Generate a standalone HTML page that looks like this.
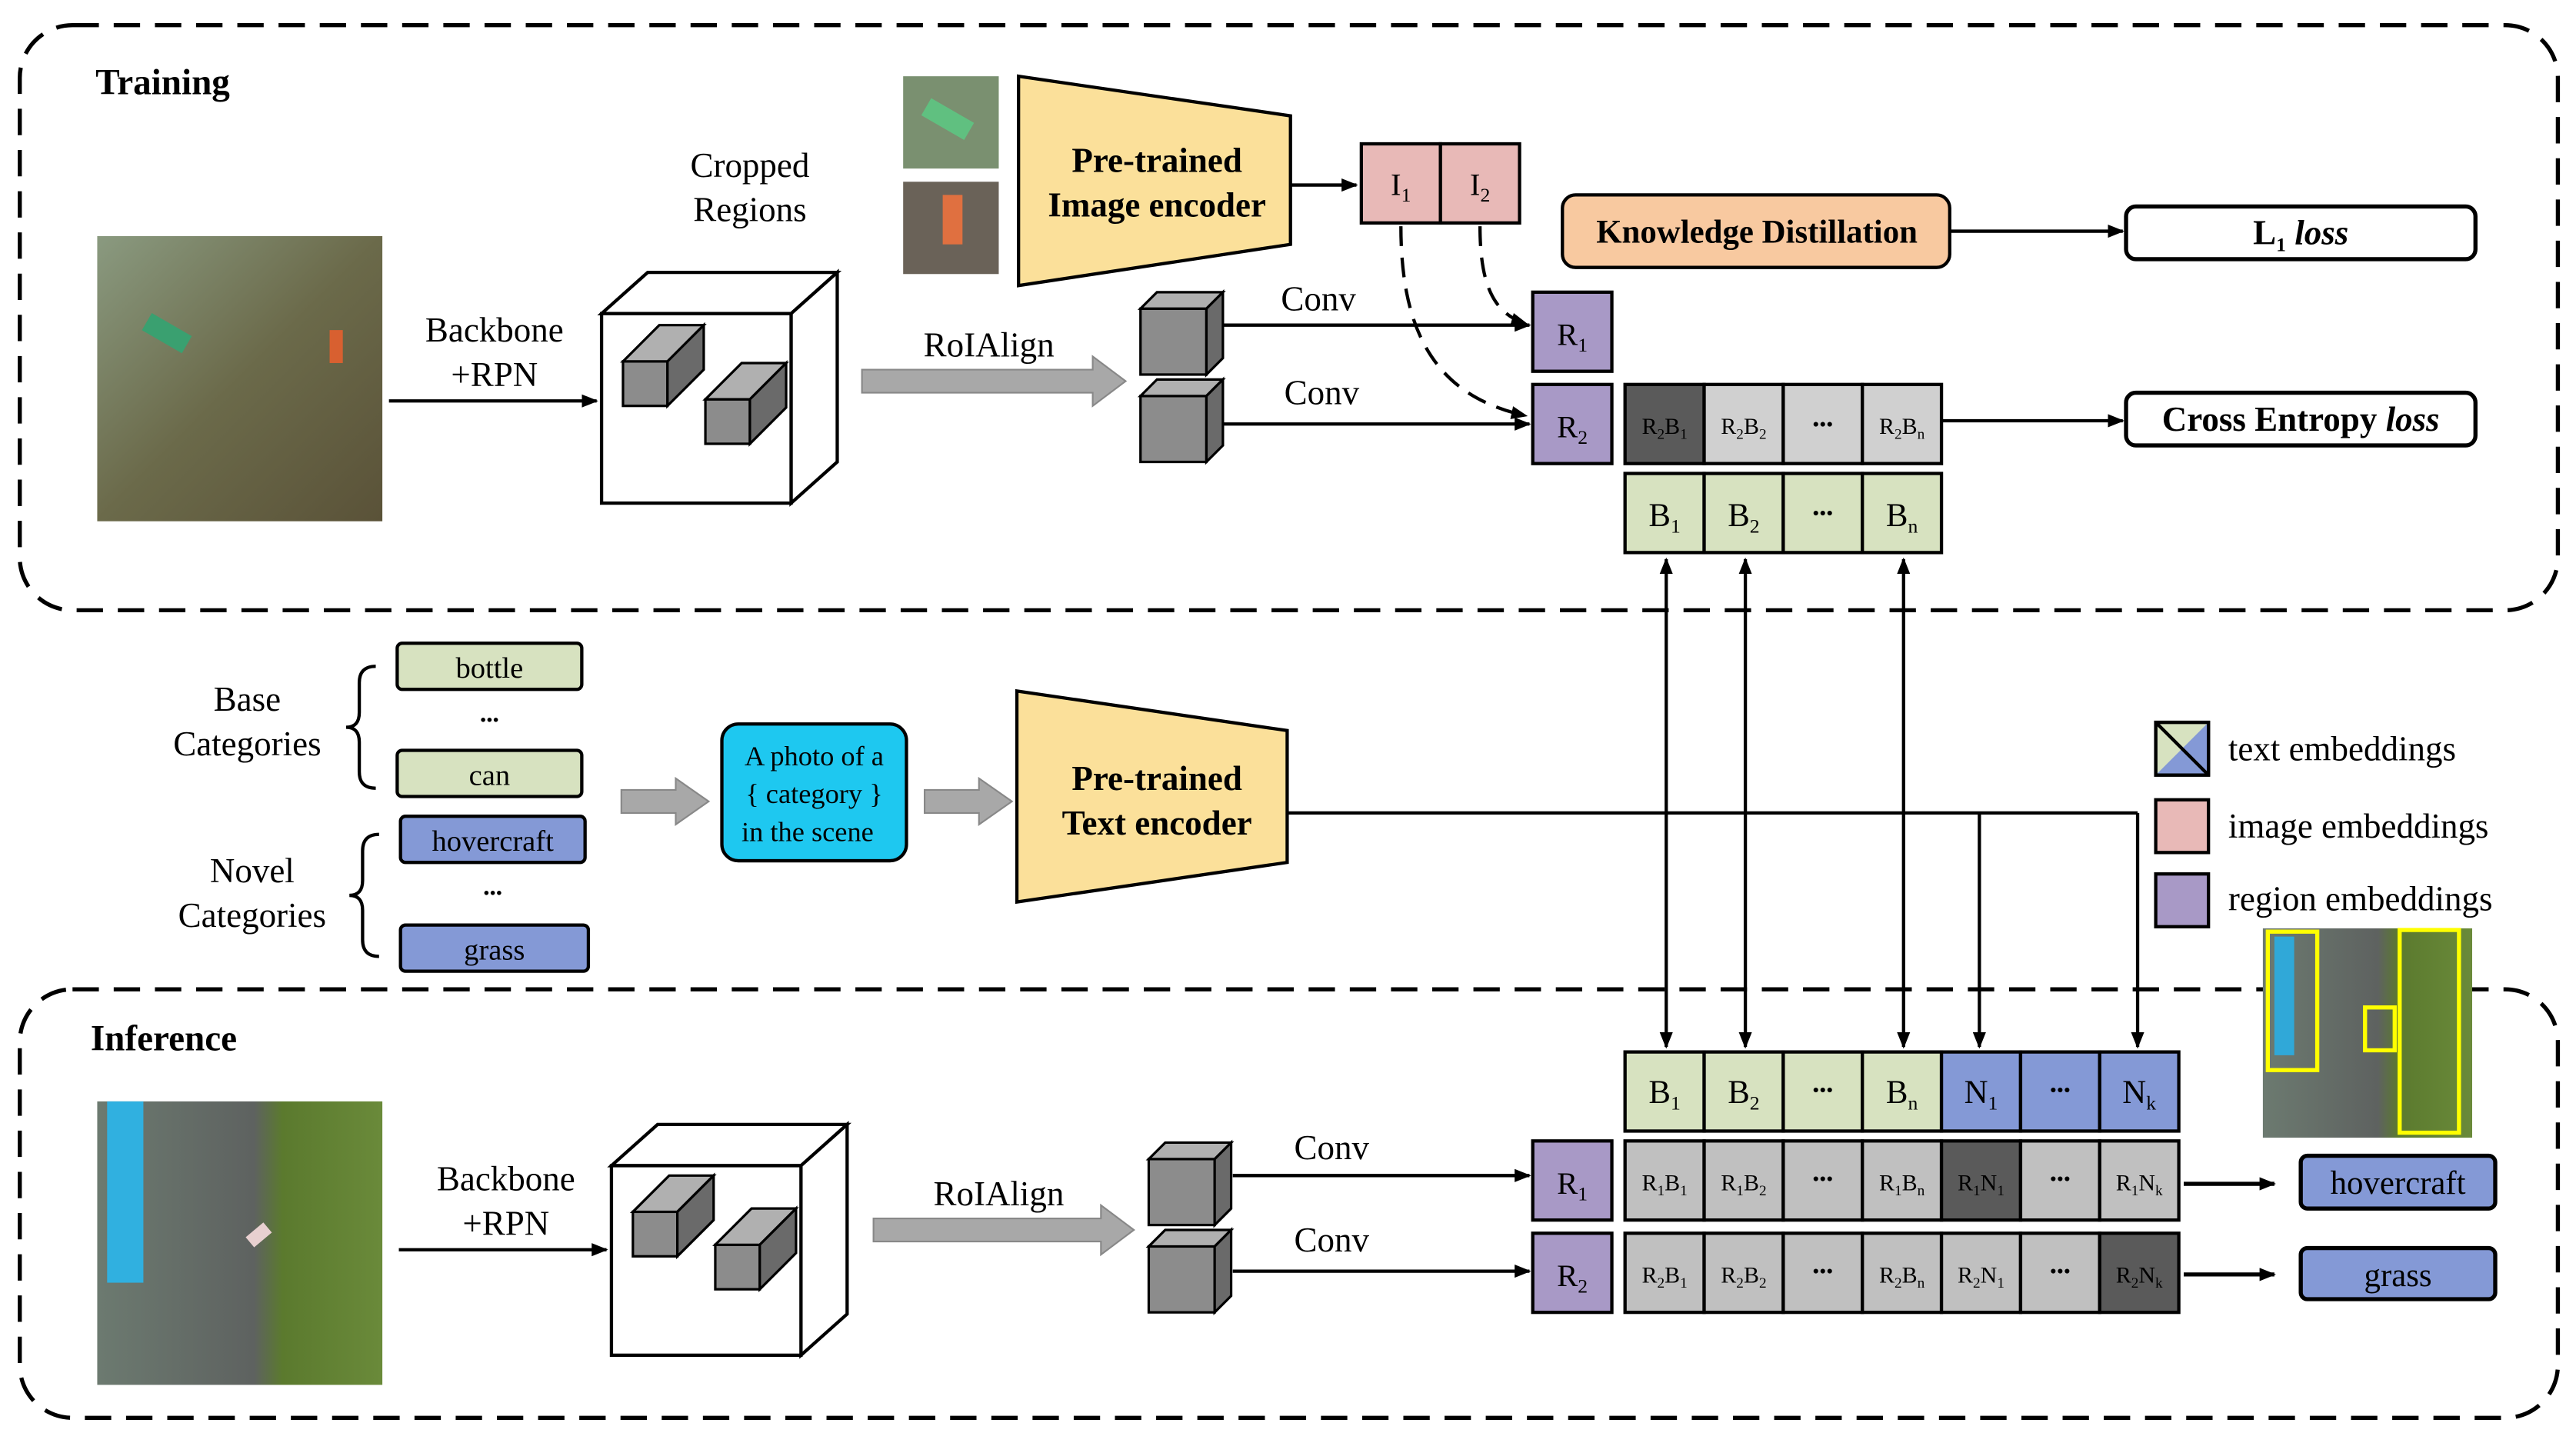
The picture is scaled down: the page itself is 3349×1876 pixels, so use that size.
<!DOCTYPE html>
<html><head><meta charset="utf-8"><style>
html,body{margin:0;padding:0;background:#fff}
svg{display:block}
text{font-family:"Liberation Serif",serif;fill:#000}
</style></head><body>
<svg width="3349" height="1876" viewBox="0 0 1563 875" xmlns="http://www.w3.org/2000/svg">
<defs>
<marker id="ah" markerWidth="10" markerHeight="8" refX="9" refY="4" orient="auto" markerUnits="userSpaceOnUse"><path d="M0,0 L10,4 L0,8 z" fill="#000"/></marker>
<marker id="ahs" markerWidth="10" markerHeight="8" refX="1" refY="4" orient="auto" markerUnits="userSpaceOnUse"><path d="M10,0 L0,4 L10,8 z" fill="#000"/></marker>
<linearGradient id="p1" x1="0" y1="0" x2="1" y2="1"><stop offset="0" stop-color="#8a9a80"/><stop offset="0.5" stop-color="#6b6a4a"/><stop offset="1" stop-color="#5a5238"/></linearGradient>
<linearGradient id="p2" x1="0" y1="0" x2="1" y2="0"><stop offset="0" stop-color="#6c7a70"/><stop offset="0.55" stop-color="#5e6260"/><stop offset="0.65" stop-color="#5b7a2e"/><stop offset="1" stop-color="#6a8a3a"/></linearGradient>
<g id="cube"><rect x="0" y="0" width="40" height="40" fill="#8c8c8c" stroke="#000" stroke-width="1.5"/><path d="M0,0 L10,-10 L50,-10 L40,0 z" fill="#b0b0b0" stroke="#000" stroke-width="1.5"/><path d="M40,0 L50,-10 L50,30 L40,40 z" fill="#6a6a6a" stroke="#000" stroke-width="1.5"/></g>
<g id="scube"><rect x="0" y="0" width="27" height="27" fill="#8c8c8c" stroke="#000" stroke-width="1.5"/><path d="M0,0 L22,-22 L49,-22 L27,0 z" fill="#b0b0b0" stroke="#000" stroke-width="1.5"/><path d="M27,0 L49,-22 L49,5 L27,27 z" fill="#6a6a6a" stroke="#000" stroke-width="1.5"/></g>
</defs>

<rect x="12" y="15" width="1540" height="355" rx="32" fill="none" stroke="#000" stroke-width="2.5" stroke-dasharray="16,9"/>
<rect x="12" y="600" width="1540" height="260" rx="32" fill="none" stroke="#000" stroke-width="2.5" stroke-dasharray="16,9"/>
<text x="58" y="57" font-size="22" font-weight="bold">Training</text>
<text x="55" y="637" font-size="22" font-weight="bold">Inference</text>

<rect x="59" y="143" width="173" height="173" fill="url(#p1)"/>
<rect x="88" y="195" width="28" height="12" fill="#3aa070" transform="rotate(30 100 200)"/>
<rect x="200" y="200" width="8" height="20" fill="#d86030"/>
<line x1="236" y1="243" x2="362" y2="243" stroke="#000" stroke-width="2" marker-end="url(#ah)"/>
<text x="300" y="207" font-size="21" text-anchor="middle">Backbone</text>
<text x="300" y="234" font-size="21" text-anchor="middle">+RPN</text>
<path d="M365,190 L393,165 L508,165 L480,190 z" fill="#fff" stroke="#000" stroke-width="2"/>
<path d="M480,190 L508,165 L508,280 L480,305 z" fill="#fff" stroke="#000" stroke-width="2"/>
<rect x="365" y="190" width="115" height="115" fill="#fff" stroke="#000" stroke-width="2"/>
<use href="#scube" x="378" y="219"/>
<use href="#scube" x="428" y="242"/>
<text x="455" y="107" font-size="21" text-anchor="middle">Cropped</text>
<text x="455" y="134" font-size="21" text-anchor="middle">Regions</text>
<path d="M523,224 L663,224 L663,216 L683,231 L663,246 L663,238 L523,238 z" fill="#a8a8a8" stroke="#888" stroke-width="1"/>
<text x="600" y="216" font-size="21" text-anchor="middle">RoIAlign</text>
<use href="#cube" x="692" y="187"/>
<use href="#cube" x="692" y="240"/>
<line x1="742" y1="197" x2="928" y2="197" stroke="#000" stroke-width="2" marker-end="url(#ah)"/>
<line x1="742" y1="257" x2="928" y2="257" stroke="#000" stroke-width="2" marker-end="url(#ah)"/>
<text x="800" y="188" font-size="21" text-anchor="middle">Conv</text>
<text x="802" y="245" font-size="21" text-anchor="middle">Conv</text>
<rect x="930" y="177" width="48" height="48" fill="#a899c6" stroke="#000" stroke-width="2"/>
<text x="954" y="209" font-size="19" text-anchor="middle">R<tspan font-size="12" dy="4">1</tspan></text>
<rect x="930" y="233" width="48" height="48" fill="#a899c6" stroke="#000" stroke-width="2"/>
<text x="954" y="265" font-size="19" text-anchor="middle">R<tspan font-size="12" dy="4">2</tspan></text>
<rect x="548" y="46" width="58" height="56" fill="#7a9070"/>
<rect x="560" y="66" width="30" height="12" fill="#60c080" transform="rotate(30 575 72)"/>
<rect x="548" y="110" width="58" height="56" fill="#6a6258"/>
<rect x="572" y="118" width="12" height="30" fill="#e07040"/>
<path d="M618,46 L783,70 L783,148 L618,173 z" fill="#fbe09a" stroke="#000" stroke-width="2"/>
<text x="702" y="104" font-size="21" font-weight="bold" text-anchor="middle">Pre-trained</text>
<text x="702" y="131" font-size="21" font-weight="bold" text-anchor="middle">Image encoder</text>
<line x1="783" y1="112" x2="823" y2="112" stroke="#000" stroke-width="2" marker-end="url(#ah)"/>
<rect x="826" y="87" width="48" height="48" fill="#e8b9b7" stroke="#000" stroke-width="2"/>
<rect x="874" y="87" width="48" height="48" fill="#e8b9b7" stroke="#000" stroke-width="2"/>
<text x="850" y="118" font-size="19" text-anchor="middle">I<tspan font-size="12" dy="4">1</tspan></text>
<text x="898" y="118" font-size="19" text-anchor="middle">I<tspan font-size="12" dy="4">2</tspan></text>
<path d="M850,137 C850,200 870,240 926,252" fill="none" stroke="#000" stroke-width="2" stroke-dasharray="12,7" marker-end="url(#ah)"/>
<path d="M898,137 C898,170 905,190 926,196" fill="none" stroke="#000" stroke-width="2" stroke-dasharray="12,7" marker-end="url(#ah)"/>
<rect x="948" y="118" width="235" height="44" rx="8" fill="#f8c9a0" stroke="#000" stroke-width="2"/>
<text x="1066" y="147" font-size="20" font-weight="bold" text-anchor="middle">Knowledge Distillation</text>
<line x1="1183" y1="140" x2="1288" y2="140" stroke="#000" stroke-width="2" marker-end="url(#ah)"/>
<rect x="1290" y="125" width="212" height="32" rx="6" fill="#fff" stroke="#000" stroke-width="2.5"/>
<text x="1396" y="148" font-size="21" font-weight="bold" text-anchor="middle">L<tspan font-size="12" dy="4">1</tspan><tspan dy="-4" font-style="italic"> loss</tspan></text>
<g stroke="#000" stroke-width="2">
<rect x="986" y="233" width="48" height="48" fill="#5a5a5a"/>
<rect x="1034" y="233" width="48" height="48" fill="#d0d0d0"/>
<rect x="1082" y="233" width="48" height="48" fill="#d0d0d0"/>
<rect x="1130" y="233" width="48" height="48" fill="#d0d0d0"/>
</g>
<g font-size="14" text-anchor="middle">
<text x="1010" y="263">R<tspan font-size="9" dy="3">2</tspan><tspan dy="-3">B</tspan><tspan font-size="9" dy="3">1</tspan></text>
<text x="1058" y="263">R<tspan font-size="9" dy="3">2</tspan><tspan dy="-3">B</tspan><tspan font-size="9" dy="3">2</tspan></text>
<text x="1106" y="261" font-size="12">•••</text>
<text x="1154" y="263">R<tspan font-size="9" dy="3">2</tspan><tspan dy="-3">B</tspan><tspan font-size="9" dy="3">n</tspan></text>
</g>
<line x1="1178" y1="255" x2="1288" y2="255" stroke="#000" stroke-width="2" marker-end="url(#ah)"/>
<rect x="1290" y="238" width="212" height="32" rx="6" fill="#fff" stroke="#000" stroke-width="2.5"/>
<text x="1396" y="261" font-size="21" font-weight="bold" text-anchor="middle">Cross Entropy <tspan font-style="italic">loss</tspan></text>
<g stroke="#000" stroke-width="2" fill="#d7e2c0">
<rect x="986" y="287" width="48" height="48"/><rect x="1034" y="287" width="48" height="48"/><rect x="1082" y="287" width="48" height="48"/><rect x="1130" y="287" width="48" height="48"/>
</g>
<g font-size="20" text-anchor="middle">
<text x="1010" y="319">B<tspan font-size="12" dy="4">1</tspan></text>
<text x="1058" y="319">B<tspan font-size="12" dy="4">2</tspan></text>
<text x="1106" y="315" font-size="12">•••</text>
<text x="1154" y="319">B<tspan font-size="12" dy="4">n</tspan></text>
</g>
<g stroke="#000" stroke-width="2">
<line x1="1011" y1="339" x2="1011" y2="635" marker-start="url(#ahs)" marker-end="url(#ah)"/>
<line x1="1059" y1="339" x2="1059" y2="635" marker-start="url(#ahs)" marker-end="url(#ah)"/>
<line x1="1155" y1="339" x2="1155" y2="635" marker-start="url(#ahs)" marker-end="url(#ah)"/>
<line x1="781" y1="493" x2="1297" y2="493" fill="none"/>
<line x1="1201" y1="493" x2="1201" y2="635" marker-end="url(#ah)"/>
<line x1="1297" y1="493" x2="1297" y2="635" marker-end="url(#ah)"/>
</g>
<text x="150" y="431" font-size="21" text-anchor="middle">Base</text>
<text x="150" y="458" font-size="21" text-anchor="middle">Categories</text>
<text x="153" y="535" font-size="21" text-anchor="middle">Novel</text>
<text x="153" y="562" font-size="21" text-anchor="middle">Categories</text>
<path d="M228,404 Q218,404 218,414 L218,432 Q218,441 210,441 Q218,441 218,450 L218,468 Q218,478 228,478" fill="none" stroke="#000" stroke-width="2"/>
<path d="M230,506 Q220,506 220,516 L220,534 Q220,543 212,543 Q220,543 220,552 L220,570 Q220,580 230,580" fill="none" stroke="#000" stroke-width="2"/>
<g stroke="#000" stroke-width="2">
<rect x="241" y="390" width="112" height="28" rx="3" fill="#d7e2c0"/>
<rect x="241" y="455" width="112" height="28" rx="3" fill="#d7e2c0"/>
<rect x="243" y="495" width="112" height="28" rx="3" fill="#8499d6"/>
<rect x="243" y="561" width="114" height="28" rx="3" fill="#8499d6"/>
</g>
<g font-size="18" text-anchor="middle">
<text x="297" y="411">bottle</text><text x="297" y="440" font-size="11">•••</text><text x="297" y="476">can</text>
<text x="299" y="516">hovercraft</text><text x="299" y="545" font-size="11">•••</text><text x="300" y="582">grass</text>
</g>
<path d="M377,479 L410,479 L410,472 L430,486 L410,500 L410,493 L377,493 z" fill="#a8a8a8" stroke="#888"/>
<rect x="438" y="439" width="112" height="83" rx="10" fill="#1ec8f0" stroke="#000" stroke-width="2"/>
<text x="494" y="464" font-size="17" text-anchor="middle">A photo of a</text>
<text x="494" y="487" font-size="17" text-anchor="middle">{ category }</text>
<text x="490" y="510" font-size="17" text-anchor="middle">in the scene</text>
<path d="M561,479 L594,479 L594,472 L614,486 L594,500 L594,493 L561,493 z" fill="#a8a8a8" stroke="#888"/>
<path d="M617,419 L781,443 L781,523 L617,547 z" fill="#fbe09a" stroke="#000" stroke-width="2"/>
<text x="702" y="479" font-size="21" font-weight="bold" text-anchor="middle">Pre-trained</text>
<text x="702" y="506" font-size="21" font-weight="bold" text-anchor="middle">Text encoder</text>
<rect x="1308" y="438" width="32" height="32" fill="#d7e2c0" stroke="#000" stroke-width="2"/>
<path d="M1340,438 L1340,470 L1308,470 z" fill="#8499d6"/>
<path d="M1308,438 L1340,470" stroke="#000" stroke-width="2"/>
<rect x="1308" y="438" width="32" height="32" fill="none" stroke="#000" stroke-width="2"/>
<rect x="1308" y="485" width="32" height="32" fill="#e8b9b7" stroke="#000" stroke-width="2"/>
<rect x="1308" y="530" width="32" height="32" fill="#a899c6" stroke="#000" stroke-width="2"/>
<text x="1352" y="461" font-size="21">text embeddings</text>
<text x="1352" y="508" font-size="21">image embeddings</text>
<text x="1352" y="552" font-size="21">region embeddings</text>
<rect x="1373" y="563" width="127" height="127" fill="url(#p2)"/>
<rect x="1376" y="565" width="30" height="84" fill="none" stroke="#ff0" stroke-width="2.5"/>
<rect x="1380" y="568" width="12" height="72" fill="#30a8d8"/>
<rect x="1435" y="611" width="18" height="26" fill="none" stroke="#ff0" stroke-width="2.5"/>
<rect x="1456" y="564" width="36" height="123" fill="none" stroke="#ff0" stroke-width="2.5"/>
<rect x="59" y="668" width="173" height="172" fill="url(#p2)"/>
<rect x="65" y="668" width="22" height="110" fill="#30b0e0"/>
<rect x="150" y="745" width="14" height="8" fill="#e8d0d0" transform="rotate(-40 157 749)"/>
<line x1="242" y1="758" x2="368" y2="758" stroke="#000" stroke-width="2" marker-end="url(#ah)"/>
<text x="307" y="722" font-size="21" text-anchor="middle">Backbone</text>
<text x="307" y="749" font-size="21" text-anchor="middle">+RPN</text>
<path d="M371,707 L399,682 L514,682 L486,707 z" fill="#fff" stroke="#000" stroke-width="2"/>
<path d="M486,707 L514,682 L514,797 L486,822 z" fill="#fff" stroke="#000" stroke-width="2"/>
<rect x="371" y="707" width="115" height="115" fill="#fff" stroke="#000" stroke-width="2"/>
<use href="#scube" x="384" y="735"/>
<use href="#scube" x="434" y="755"/>
<path d="M530,739 L668,739 L668,731 L688,746 L668,761 L668,753 L530,753 z" fill="#a8a8a8" stroke="#888"/>
<text x="606" y="731" font-size="21" text-anchor="middle">RoIAlign</text>
<use href="#cube" x="697" y="703"/>
<use href="#cube" x="697" y="756"/>
<line x1="748" y1="713" x2="928" y2="713" stroke="#000" stroke-width="2" marker-end="url(#ah)"/>
<line x1="748" y1="771" x2="928" y2="771" stroke="#000" stroke-width="2" marker-end="url(#ah)"/>
<text x="808" y="703" font-size="21" text-anchor="middle">Conv</text>
<text x="808" y="759" font-size="21" text-anchor="middle">Conv</text>
<rect x="930" y="692" width="48" height="48" fill="#a899c6" stroke="#000" stroke-width="2"/>
<text x="954" y="724" font-size="19" text-anchor="middle">R<tspan font-size="12" dy="4">1</tspan></text>
<rect x="930" y="748" width="48" height="48" fill="#a899c6" stroke="#000" stroke-width="2"/>
<text x="954" y="780" font-size="19" text-anchor="middle">R<tspan font-size="12" dy="4">2</tspan></text>
<g stroke="#000" stroke-width="2">
<rect x="986" y="638" width="48" height="48" fill="#d7e2c0"/><rect x="1034" y="638" width="48" height="48" fill="#d7e2c0"/><rect x="1082" y="638" width="48" height="48" fill="#d7e2c0"/><rect x="1130" y="638" width="48" height="48" fill="#d7e2c0"/>
<rect x="1178" y="638" width="48" height="48" fill="#8499d6"/><rect x="1226" y="638" width="48" height="48" fill="#8499d6"/><rect x="1274" y="638" width="48" height="48" fill="#8499d6"/>
</g>
<g font-size="20" text-anchor="middle">
<text x="1010" y="669">B<tspan font-size="12" dy="4">1</tspan></text>
<text x="1058" y="669">B<tspan font-size="12" dy="4">2</tspan></text>
<text x="1106" y="665" font-size="12">•••</text>
<text x="1154" y="669">B<tspan font-size="12" dy="4">n</tspan></text>
<text x="1202" y="669">N<tspan font-size="12" dy="4">1</tspan></text>
<text x="1250" y="665" font-size="12">•••</text>
<text x="1298" y="669">N<tspan font-size="12" dy="4">k</tspan></text>
</g>
<g stroke="#000" stroke-width="2" fill="#c0c0c0">
<rect x="986" y="692" width="48" height="48"/><rect x="1034" y="692" width="48" height="48"/><rect x="1082" y="692" width="48" height="48"/><rect x="1130" y="692" width="48" height="48"/>
<rect x="1178" y="692" width="48" height="48" fill="#5a5a5a"/><rect x="1226" y="692" width="48" height="48"/><rect x="1274" y="692" width="48" height="48"/>
<rect x="986" y="748" width="48" height="48"/><rect x="1034" y="748" width="48" height="48"/><rect x="1082" y="748" width="48" height="48"/><rect x="1130" y="748" width="48" height="48"/>
<rect x="1178" y="748" width="48" height="48"/><rect x="1226" y="748" width="48" height="48"/><rect x="1274" y="748" width="48" height="48" fill="#5a5a5a"/>
</g>
<g font-size="14" text-anchor="middle">
<text x="1010" y="722">R<tspan font-size="9" dy="3">1</tspan><tspan dy="-3">B</tspan><tspan font-size="9" dy="3">1</tspan></text>
<text x="1058" y="722">R<tspan font-size="9" dy="3">1</tspan><tspan dy="-3">B</tspan><tspan font-size="9" dy="3">2</tspan></text>
<text x="1106" y="719" font-size="12">•••</text>
<text x="1154" y="722">R<tspan font-size="9" dy="3">1</tspan><tspan dy="-3">B</tspan><tspan font-size="9" dy="3">n</tspan></text>
<text x="1202" y="722">R<tspan font-size="9" dy="3">1</tspan><tspan dy="-3">N</tspan><tspan font-size="9" dy="3">1</tspan></text>
<text x="1250" y="719" font-size="12">•••</text>
<text x="1298" y="722">R<tspan font-size="9" dy="3">1</tspan><tspan dy="-3">N</tspan><tspan font-size="9" dy="3">k</tspan></text>
<text x="1010" y="778">R<tspan font-size="9" dy="3">2</tspan><tspan dy="-3">B</tspan><tspan font-size="9" dy="3">1</tspan></text>
<text x="1058" y="778">R<tspan font-size="9" dy="3">2</tspan><tspan dy="-3">B</tspan><tspan font-size="9" dy="3">2</tspan></text>
<text x="1106" y="775" font-size="12">•••</text>
<text x="1154" y="778">R<tspan font-size="9" dy="3">2</tspan><tspan dy="-3">B</tspan><tspan font-size="9" dy="3">n</tspan></text>
<text x="1202" y="778">R<tspan font-size="9" dy="3">2</tspan><tspan dy="-3">N</tspan><tspan font-size="9" dy="3">1</tspan></text>
<text x="1250" y="775" font-size="12">•••</text>
<text x="1298" y="778">R<tspan font-size="9" dy="3">2</tspan><tspan dy="-3">N</tspan><tspan font-size="9" dy="3">k</tspan></text>
</g>
<line x1="1325" y1="718" x2="1380" y2="718" stroke="#000" stroke-width="2.5" marker-end="url(#ah)"/>
<line x1="1325" y1="773" x2="1380" y2="773" stroke="#000" stroke-width="2.5" marker-end="url(#ah)"/>
<rect x="1396" y="701" width="118" height="32" rx="4" fill="#8499d6" stroke="#000" stroke-width="2.5"/>
<text x="1455" y="724" font-size="20" text-anchor="middle">hovercraft</text>
<rect x="1396" y="757" width="118" height="31" rx="4" fill="#8499d6" stroke="#000" stroke-width="2.5"/>
<text x="1455" y="780" font-size="20" text-anchor="middle">grass</text>
</svg>
</body></html>
